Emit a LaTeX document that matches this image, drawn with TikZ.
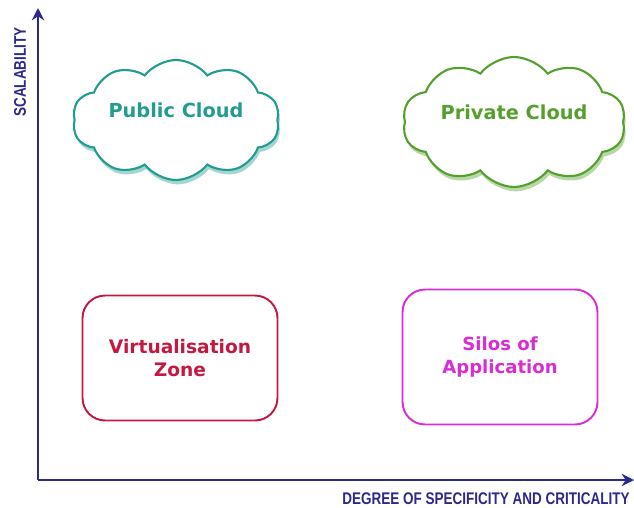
\documentclass[tikz,border=0pt]{standalone}
\usepackage{fontspec}
\setmainfont{DejaVu Sans}
\newfontfamily\axisfont[FakeStretch=0.8]{Liberation Sans}
\usetikzlibrary{arrows.meta}
\usetikzlibrary{shapes.symbols}
\usetikzlibrary{shadows}
\definecolor{axisblue}{RGB}{45,40,140}
\definecolor{pubteal}{RGB}{35,155,145}
\definecolor{privgreen}{RGB}{85,160,45}
\definecolor{virtred}{RGB}{195,25,65}
\definecolor{silomag}{RGB}{215,45,210}

\begin{document}
\begin{tikzpicture}[x=0.02cm,y=-0.02cm,
        axis/.style={line width=1.6pt,axisblue,-{Stealth[length=7pt,width=7pt]}},
        axislabel/.style={text=axisblue,font=\axisfont\bfseries\fontsize{9.6}{11}\selectfont},
        cloudnode/.style={cloud,cloud puffs=10,cloud puff arc=105,cloud ignores aspect,minimum width=4cm,minimum height=2.4cm,line width=1.2pt,fill=white,text depth=11pt,font=\bfseries\fontsize{11}{13}\selectfont},
        zonebox/.style={draw,rounded corners=0.45cm,line width=1.1pt,minimum width=3.9cm,minimum height=2.5cm,align=center,font=\bfseries\fontsize{10.6}{13}\selectfont}]
        \useasboundingbox (0,0) rectangle (634,507);

        \coordinate (origin) at (38,480);
        \coordinate (ytop) at (38,8);
        \coordinate (xend) at (634,480);

        \draw[axis] (origin) -- (ytop);
        \draw[axis] (origin) -- (xend);
        \node[axislabel,rotate=90] (ylabel) at (20,72) {SCALABILITY};
        \node[axislabel] (xlabel) at (486,499) {DEGREE OF SPECIFICITY AND CRITICALITY};

        \node[cloudnode,draw=pubteal,text=pubteal,drop shadow={fill=pubteal!70,opacity=0.6,shadow xshift=1pt,shadow yshift=-2.5pt}] (public) at (176,120) {Public Cloud};
        \node[cloudnode,draw=privgreen,text=privgreen,minimum height=2.6cm,drop shadow={fill=privgreen!70,opacity=0.6,shadow xshift=1pt,shadow yshift=-2.5pt}] (private) at (514,122) {Private Cloud};

        \node[zonebox,draw=virtred,text=virtred] (virt) at (180,358) {Virtualisation\\Zone};
        \node[zonebox,draw=silomag,text=silomag,minimum height=2.7cm,font=\bfseries\fontsize{10.3}{13}\selectfont] (silos) at (500,357) {Silos of\\Application};
    \end{tikzpicture}
\end{document}
